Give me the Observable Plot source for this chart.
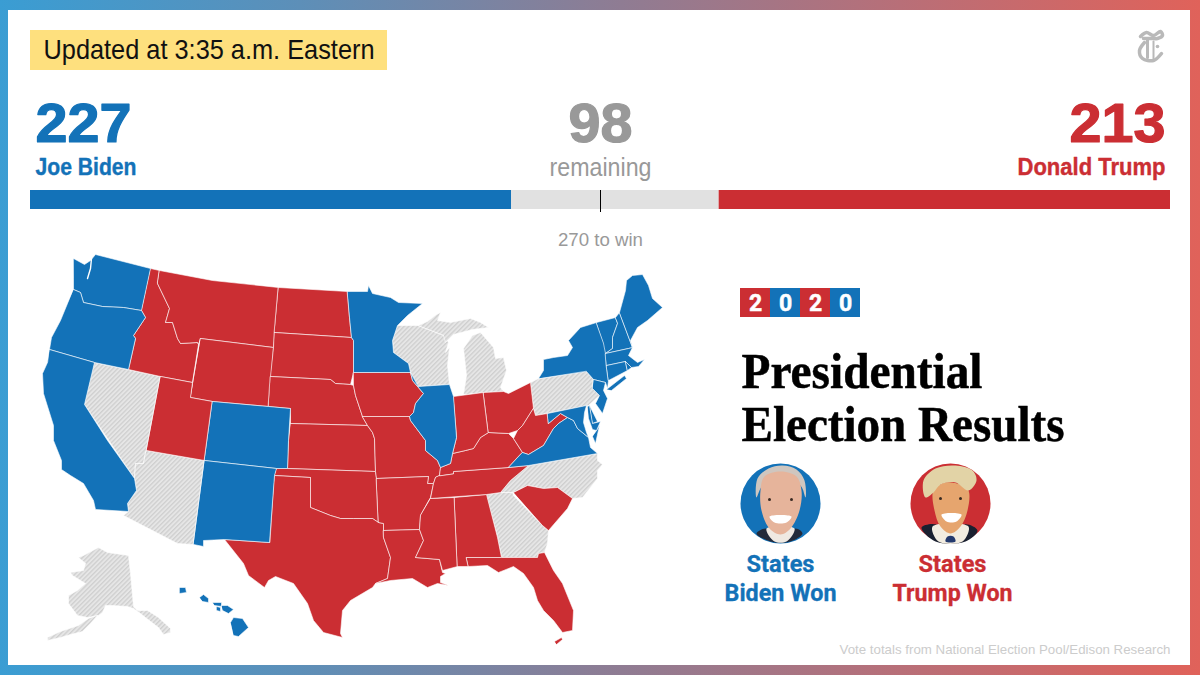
<!DOCTYPE html>
<html><head><meta charset="utf-8">
<script src="https://cdn.jsdelivr.net/npm/d3@7"></script>
<script src="https://cdn.jsdelivr.net/npm/@observablehq/plot@0.6"></script>
<style>
html,body{margin:0;padding:0;width:1200px;height:675px;overflow:hidden}
#frame{position:absolute;left:0;top:0;width:1200px;height:675px;background:linear-gradient(90deg,#3a9dd3 0%,#5d8fb8 25%,#8c7d95 50%,#b86f78 75%,#e0625a 100%)}
#panel{position:absolute;left:8px;top:10px;width:1182px;height:655px;background:#fff}
#map,#bar{position:absolute;left:0}
#map{top:0}#bar{top:190px}
</style></head><body>
<div id="frame"></div><div id="panel"></div><div id="map"></div><div id="bar"></div>
<script>
const BLUE="#1372b8", RED="#cb2e33", GREY="#999999";
// Electoral votes
const voteCounts=[227,98,213], voteColors=[BLUE,"#e1e1e1",RED], winLine=269;
// State outlines, in map units
const WA=[[73,258],[84,264],[90,260],[95,254],[150,268],[141,310],[123,307],[102,306],[83,302],[80,292],[73,289],[73,278]];
const OR=[[73,289],[80,292],[83,302],[102,306],[123,307],[141,310],[145,317],[133,335],[135,338],[128,369],[94,362],[49,349],[51,337],[60,320],[67,303]];
const CA=[[49,349],[94,362],[84,404],[107,440],[134,478],[136,490],[127,503],[128,511],[95,509],[93,500],[83,483],[70,475],[61,469],[61,460],[53,440],[53,425],[43,393],[42,373],[47,362]];
const NV=[[94,362],[160,376],[146,450],[145,452],[143,463],[135,463],[134,478],[84,404]];
const AZ=[[146,450],[204,460],[193,544],[177,543],[123,515],[128,511],[127,503],[136,490],[134,478],[135,463],[143,463],[145,452]];
const UT=[[160,376],[192,382],[190,397],[212,401],[204,460],[146,450]];
const ID=[[150,268],[159,270],[157,283],[169,308],[165,322],[172,322],[177,338],[180,343],[197,342],[198,344],[192,382],[160,376],[128,369],[135,338],[133,335],[145,317],[141,310]];
const MT=[[159,270],[212,280],[278,287],[273,347],[200,338],[198,344],[197,342],[180,343],[177,338],[172,322],[165,322],[169,308],[157,283]];
const WY=[[200,338],[273,347],[268,406],[212,401],[190,397]];
const CO=[[212,401],[268,406],[290,408],[288,440],[287,468],[276,468],[204,460]];
const NM=[[204,460],[276,468],[274,475],[269,542],[224,539],[203,540],[203,546],[193,544]];
const ND=[[278,287],[347,291],[349,317],[351,337],[274,332]];
const SD=[[274,332],[351,337],[353,340],[353,372],[350,384],[335,383],[330,379],[270,376],[273,347]];
const NE=[[270,376],[330,379],[335,383],[350,384],[353,385],[355,395],[362,416],[367,425],[290,423],[290,408],[268,406]];
const KS=[[290,423],[367,425],[372,432],[374,438],[375,471],[287,468],[288,440]];
const OK=[[276,468],[287,468],[375,471],[376,478],[378,522],[372,518],[353,518],[340,518],[330,515],[310,507],[310,477],[274,475]];
const TX=[[274,475],[310,477],[310,507],[330,515],[340,518],[353,518],[372,518],[378,522],[383,523],[383,537],[390,557],[387,578],[375,583],[372,587],[350,600],[342,610],[340,633],[342,637],[323,632],[313,620],[307,603],[293,583],[275,576],[268,580],[264,587],[248,575],[243,563],[224,539],[269,542]];
const MN=[[347,291],[367,291],[368,285],[372,293],[390,297],[398,302],[422,303],[407,315],[397,325],[392,340],[393,352],[408,363],[410,372],[353,372],[353,340],[351,337],[349,317]];
const WI=[[397,325],[418,325],[443,335],[448,342],[445,352],[449,347],[447,365],[449,384],[418,386],[410,372],[408,363],[393,352],[392,340]];
const MIU=[[418,325],[427,321],[436,314],[440,312],[437,320],[450,322],[460,320],[470,318],[480,322],[488,327],[472,329],[453,334],[445,342],[443,335]];
const MIL=[[463,394],[466,375],[463,348],[472,335],[480,332],[493,347],[495,358],[503,357],[506,370],[500,387],[503,391],[483,392]];
const IA=[[353,372],[410,372],[412,380],[423,393],[415,403],[413,412],[409,416],[362,416],[355,395],[353,385]];
const IL=[[418,386],[449,384],[453,396],[456,437],[452,453],[450,463],[440,467],[437,460],[425,450],[425,440],[410,420],[409,416],[413,412],[415,403],[423,393],[412,380],[410,372]];
const MO=[[362,416],[409,416],[410,420],[425,440],[425,450],[437,460],[440,467],[439,475],[435,477],[433,483],[427,483],[428,476],[376,478],[375,471],[374,438],[372,432],[367,425]];
const AR=[[376,478],[428,476],[427,483],[433,483],[430,497],[420,515],[419,529],[383,530],[383,523],[378,522]];
const LA=[[383,530],[419,529],[423,540],[415,557],[439,559],[442,572],[445,573],[440,576],[440,582],[448,585],[437,583],[427,587],[412,578],[390,580],[375,583],[387,578],[390,557],[383,537]];
const MS=[[430,498],[454,497],[457,566],[442,570],[439,559],[415,557],[423,540],[419,529],[420,515]];
const AL=[[454,497],[486,494],[497,537],[501,557],[466,557],[468,566],[457,566]];
const GA=[[486,494],[500,492],[512,492],[513,495],[542,525],[548,530],[547,543],[544,552],[538,553],[537,557],[501,557],[497,537]];
const SC=[[513,492],[527,485],[543,488],[557,487],[572,498],[567,508],[548,530],[542,525]];
const NC=[[528,465],[597,453],[597,460],[602,464],[597,470],[597,478],[582,497],[572,498],[557,487],[543,488],[527,485],[513,492],[500,492],[510,480]];
const TN=[[439,475],[453,473],[453,471],[508,467],[528,465],[510,480],[500,492],[486,494],[430,498],[433,483],[435,477]];
const KY=[[439,475],[440,467],[450,463],[452,453],[465,450],[473,448],[480,437],[488,432],[508,433],[513,438],[522,452],[508,467],[453,471],[453,473]];
const IN=[[453,396],[483,392],[488,432],[480,437],[473,448],[465,450],[452,453],[456,437]];
const OH=[[483,392],[503,391],[508,393],[530,382],[533,408],[522,425],[517,430],[508,433],[488,432]];
const WV=[[533,408],[535,415],[547,413],[548,423],[560,413],[567,417],[558,423],[553,428],[543,445],[528,454],[522,452],[513,438],[517,430],[522,425]];
const VA=[[522,452],[528,454],[543,445],[553,428],[558,423],[567,417],[573,420],[577,428],[588,437],[590,447],[597,453],[528,465],[508,467]];
const VAe=[[596,430],[599,425],[595,443],[592,436]];
const PA=[[530,382],[538,378],[586,371],[593,379],[592,388],[599,395],[588,405],[535,415],[533,408]];
const NY=[[538,378],[543,370],[543,359],[553,357],[567,355],[572,347],[568,340],[580,327],[596,322],[605,347],[606,365],[608,380],[607,388],[605,382],[593,379],[586,371]];
const LI=[[606,389],[624,375],[626,378],[611,390]];
const NJ=[[593,379],[605,382],[603,390],[607,398],[602,413],[595,403],[599,395],[592,388]];
const DE=[[589,405],[597,421],[592,423]];
const MDw=[[547,413],[586,405],[584,412],[583,422],[586,432],[588,437],[577,428],[573,420],[567,417],[560,413],[548,423]];
const MDe=[[587,406],[589,405],[592,423],[600,421],[596,430],[592,429],[588,418]];
const VT=[[596,322],[615,317],[617,323],[612,337],[612,348],[605,353],[603,343]];
const NH=[[615,317],[619,312],[632,347],[628,348],[605,353],[612,348],[612,337],[617,323]];
const ME=[[619,312],[625,290],[626,280],[632,275],[642,274],[648,285],[652,298],[662,307],[647,320],[637,327],[630,340],[632,347]];
const MA=[[605,353],[628,348],[632,347],[628,355],[637,362],[644,359],[638,366],[631,367],[625,361],[606,365]];
const CT=[[606,365],[625,361],[627,370],[608,380]];
const RI=[[625,361],[631,367],[627,370]];
const FL=[[466,557],[501,557],[537,557],[538,553],[544,552],[553,570],[562,583],[573,610],[572,630],[562,632],[553,620],[543,610],[537,600],[533,587],[523,573],[513,566],[498,572],[487,565],[468,566]];
const FK=[[554,641],[561,637],[562,639],[556,644]];
const AK=[[78,557],[83,555],[98,547],[107,552],[128,555],[130,573],[133,606],[137,610],[147,610],[158,617],[170,628],[170,632],[163,634],[158,627],[145,617],[140,613],[133,608],[127,606],[112,605],[105,605],[102,612],[98,615],[87,617],[77,615],[68,603],[68,595],[77,590],[85,583],[72,575],[70,572],[83,570],[85,563]];
const AKp=[[97,615],[90,623],[82,631],[70,634],[60,637],[47,640],[47,637],[60,631],[78,625],[88,618]];
const HIb=[[230,622],[233,617],[242,618],[248,627],[238,636],[233,635]];
const HIk=[[179,587],[185,587],[186,592],[179,593]];
const HIo=[[199,597],[203,594],[208,598],[208,602],[202,601]];
const HIm=[[212,602],[221,602],[221,606],[214,605]];
const HIu=[[221,605],[227,605],[233,609],[228,613],[222,610]];
const HIl=[[216,606],[220,607],[220,611],[216,610]];
// Who won what
const blueStates={WA,OR,CA,CO,NM,MN,IL,VA,VAe,NY,LI,NJ,DE,MDw,MDe,VT,NH,ME,MA,CT,RI,HIb,HIk,HIo,HIm,HIu,HIl};
const redStates={ID,MT,WY,UT,ND,SD,NE,KS,OK,TX,IA,MO,AR,LA,MS,AL,SC,TN,KY,IN,OH,WV,FL,FK};
const openStates={NV,AZ,WI,MIU,MIL,GA,NC,PA,AK,AKp};
// Water drawn over the land
const puget=[[91,258],[90,268],[87,278]];
// 2020 tile and portraits
const yearDigits=["2","0","2","0"], yearTileX=[740,770,800,830];
const bidenHair=[[756,497],[757,478],[768,468],[782,465],[796,469],[804,480],[805,497],[800,485],[780,478],[762,485]];
const bidenFace=[[760,490],[764,476],[780,471],[796,476],[801,490],[799,510],[790,528],[780,534],[769,528],[761,510]];
const bidenSuit=[[756,533],[766,528],[780,541],[795,528],[802,533],[790,541],[770,541]];
const bidenShirt=[[766,528],[794,528],[786,541],[774,541]];
const bidenSmile=[[769,516],[791,516],[786,522],[774,522]];
const trumpHair=[[925,497],[923,480],[935,468],[955,465],[972,470],[976,480],[968,490],[955,482],[940,484],[933,492]];
const trumpFace=[[933,490],[945,482],[960,484],[968,490],[967,510],[960,526],[950,533],[940,526],[934,510]];
const trumpSuit=[[921,527],[936,524],[950,541],[964,524],[977,530],[965,541],[935,541]];
const trumpShirt=[[932,526],[968,526],[962,541],[938,541]];
const trumpTie=[[947,536],[953,536],[955,541],[945,541]];
const trumpSmile=[[941,514],[961,514],[956,521],[946,521]];
const eyes=[[769,499],[791,499],[940,498],[960,498]];
// Logo strokes
const logoTop=[[1140,36],[1146,32],[1153,35],[1160,31],[1162,35],[1157,38],[1150,38],[1143,38]];
const logoStem=[[1147,38],[1147,57]];
const logoBowl=[[1144,42],[1139,50],[1142,58],[1153,60],[1161,53]];
const logoRight=[[1153,41],[1153,58]];
const logoDot=[[1157,46]];

const rows=o=>Object.entries(o).flatMap(([z,pts])=>pts.map(([x,y])=>({z,x,y})));
const px=p=>p.map(([x,y])=>({x,y}));
const land=(o,fill)=>Plot.line(rows(o),{x:"x",y:"y",z:"z",fill,stroke:"#fff",strokeWidth:.7,strokeOpacity:.85,curve:"linear-closed"});
const shape=(p,fill)=>Plot.line(px(p),{x:"x",y:"y",fill,stroke:"none",curve:"catmull-rom-closed"});
const box=(x1,y1,x2,y2,fill)=>Plot.rect([{x1,y1,x2,y2}],{x1:"x1",x2:"x2",y1:"y1",y2:"y2",fill});
const label=(text,x,y,fontSize,fill,fontWeight,textAnchor,fontFamily,heavy=0)=>Plot.text([{text,x,y}],{x:"x",y:"y",text:"text",fontSize,fill,fontWeight,textAnchor,fontFamily,lineAnchor:"middle",stroke:heavy?fill:"none",strokeWidth:heavy});
const ink=(p,w)=>Plot.line(px(p),{x:"x",y:"y",stroke:"#b9b9b9",strokeWidth:w,curve:"catmull-rom"});
const SANS="'Liberation Sans Narrow','Liberation Sans',sans-serif", ROB="'Roboto','Liberation Sans',sans-serif", SERIF="'Liberation Serif',serif";
const hatchDefs=()=>{
  const s=d3.create("svg:defs");
  const p=s.append("pattern").attr("id","hatch").attr("patternUnits","userSpaceOnUse").attr("width",3.2).attr("height",3.2).attr("patternTransform","rotate(45)");
  p.append("rect").attr("width",3.2).attr("height",3.2).attr("fill","#e6e6e6");
  p.append("rect").attr("width",1.3).attr("height",3.2).attr("fill","#cfcfcf");
  return s.node();
};
const fits={"Updated at 3:35 a.m. Eastern":331,"227":96,"Joe Biden":101,"98":64,"remaining":102,"213":96,"Donald Trump":148,"270 to win":85,
 "Presidential":241,"Election Results":323,"Vote totals from National Election Pool/Edison Research":331,"Biden Won":112,"Trump Won":120,"States":68};

const map=Plot.plot({width:1200,height:675,margin:0,style:{background:"transparent"},
 x:{domain:[0,1200],range:[0,1200],axis:null},y:{domain:[0,675],range:[0,675],axis:null},
 marks:[hatchDefs,
  land(openStates,"url(#hatch)"),land(redStates,RED),land(blueStates,BLUE),
  Plot.line(px(puget),{x:"x",y:"y",stroke:"#fff",strokeWidth:1.4}),
  box(30,30,387,70,"#fee07e"),
  label("Updated at 3:35 a.m. Eastern",43,50,28,"#111","normal","start",SANS),
  label("227",35,124,55,BLUE,"bold","start",SANS,1.2),
  label("Joe Biden",35,167,24,BLUE,"bold","start",SANS,.4),
  label("98",600,124,55,GREY,"bold","middle",SANS,1.2),
  label("remaining",600,167,25,GREY,"normal","middle",SANS),
  label("213",1165,124,55,RED,"bold","end",SANS,1.2),
  label("Donald Trump",1165,167,24,RED,"bold","end",SANS,.4),
  label("270 to win",600,240,18,GREY,"normal","middle",SANS),
  ...yearTileX.map((x,i)=>box(x,288,x+30,317,i%2?BLUE:RED)),
  ...yearDigits.map((d,i)=>label(d,yearTileX[i]+15,303,23,"#fff","bold","middle",ROB,.5)),
  label("Presidential",741,371,50,"#000","bold","start",SERIF,.5),
  label("Election Results",741,424,50,"#000","bold","start",SERIF,.5),
  Plot.dot([[780,503]],{x:d=>d[0],y:d=>d[1],r:40,fill:BLUE}),
  shape(bidenHair,"#cfc6bf"),shape(bidenSuit,"#232a3a"),shape(bidenShirt,"#efe9e2"),shape(bidenFace,"#e6b49b"),shape(bidenSmile,"#fff"),
  Plot.dot([[950,503]],{x:d=>d[0],y:d=>d[1],r:40,fill:RED}),
  shape(trumpSuit,"#1a2030"),shape(trumpShirt,"#f2ece0"),shape(trumpTie,"#243a6e"),shape(trumpFace,"#e6a56e"),shape(trumpHair,"#e2d3a6"),shape(trumpSmile,"#fff"),
  Plot.dot(eyes,{x:d=>d[0],y:d=>d[1],r:1.5,fill:"#3a2a22"}),
  label("States",780,564,23,BLUE,"bold","middle",ROB,.3),
  label("Biden Won",780,593,23,BLUE,"bold","middle",ROB,.3),
  label("States",952,564,23,RED,"bold","middle",ROB,.3),
  label("Trump Won",952,593,23,RED,"bold","middle",ROB,.3),
  label("Vote totals from National Election Pool/Edison Research",1170,649,13,"#cccccc","normal","end",SANS),
  ink(logoTop,3.5),ink(logoStem,3),ink(logoBowl,3.5),ink(logoRight,2),
  Plot.dot(logoDot,{x:d=>d[0],y:d=>d[1],r:1.8,fill:"#b9b9b9"}),
 ]});
d3.select(map).selectAll("text").each(function(){
  const w=fits[this.textContent]; if(w){const t=this.querySelector("tspan")||this; t.setAttribute("textLength",w); t.setAttribute("lengthAdjust","spacingAndGlyphs");}
});
document.getElementById("map").append(map);

const stack=voteCounts.map((votes,i)=>({votes,fill:voteColors[i]}));
let run=0; stack.forEach(d=>{d.start=run; run+=d.votes; d.end=run;});
document.getElementById("bar").append(Plot.plot({width:1200,height:23,marginLeft:30,marginRight:30,marginTop:0,marginBottom:0,style:{background:"transparent"},
 x:{domain:[0,538],axis:null},y:{domain:[0,23],range:[0,23],axis:null},
 marks:[
  Plot.rect(stack,{x1:"start",x2:"end",y1:0,y2:19,fill:d=>d.fill}),
  Plot.ruleX([winLine],{y1:0,y2:22,stroke:"#000",strokeWidth:1})
 ]}));
</script></body></html>
